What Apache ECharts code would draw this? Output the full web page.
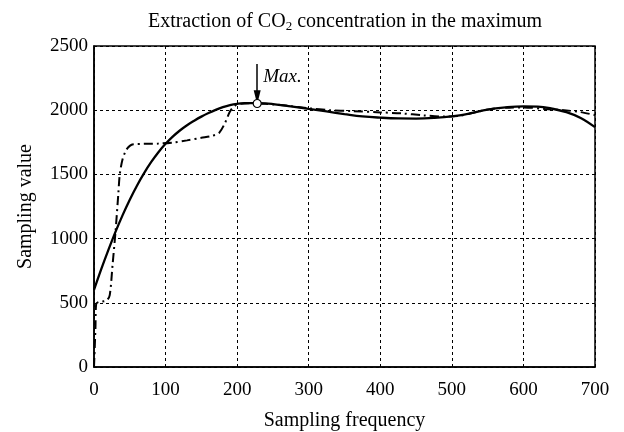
<!DOCTYPE html>
<html>
<head>
<meta charset="utf-8">
<script src="https://cdn.jsdelivr.net/npm/echarts@6/dist/echarts.min.js"></script>
<style>
  html, body { margin: 0; padding: 0; background: #fff; }
  #chartDiv { width: 624px; height: 432px; }
</style>
</head>
<body>
<div id="chartDiv"></div>
<script>
// solid curve (fitted)
var fitX = [0, 10, 20, 30, 40, 50, 60, 70, 80, 90, 100, 110, 120, 130, 140, 150, 160, 170, 180, 190, 200,
  210, 230, 250, 275, 300, 325, 350, 375, 400, 425, 450, 475, 500, 525, 550, 575, 600, 620, 640, 660, 680, 700];
var fitY = [600, 760, 910, 1052, 1183, 1303, 1412, 1510, 1597, 1673, 1738, 1794, 1842, 1883, 1918, 1950, 1978, 2003, 2024, 2040, 2050,
  2055, 2055, 2048, 2030, 2010, 1990, 1970, 1952, 1942, 1936, 1935, 1940, 1952, 1975, 2005, 2022, 2030, 2028, 2012, 1985, 1940, 1868];

// dash-dot curve (sampled)
var rawX = [0, 2, 3, 6, 12, 18, 22, 26, 30, 34, 36, 40, 45, 50, 55, 70, 90, 110, 130, 150, 165, 175, 183, 190, 197, 205,
  220, 240, 270, 300, 330, 360, 400, 430, 460, 490, 510, 530, 555, 580, 600, 630, 660, 680, 700];
var rawY = [0, 300, 490, 505, 510, 520, 560, 800, 1050, 1350, 1500, 1620, 1690, 1722, 1735, 1738, 1740, 1748, 1765, 1785, 1800, 1825, 1900, 1990, 2035, 2050,
  2055, 2050, 2035, 2015, 2000, 1993, 1983, 1975, 1960, 1950, 1955, 1980, 2010, 2020, 2022, 2010, 1998, 1985, 1962];

var xTicks = [0, 700, 100];
var yTicks = [0, 2500, 500];
var maxPoint = [228, 2052];
var arrowFrom = [228, 2360];
var arrowTo = [228, 2100];

function pairs(xs, ys) {
  var out = [];
  for (var i = 0; i < xs.length; i++) out.push([xs[i], ys[i]]);
  return out;
}

var serif = "Liberation Serif";
var myChart = echarts.init(document.getElementById("chartDiv"));

var option = {
  animation: false,
  backgroundColor: "#fff",
  title: {
    text: "{a|Extraction of CO}{s|2}{a| concentration in the maximum}",
    left: 340,
    textAlign: "center",
    top: 6,
    textStyle: {
      rich: {
        a: { fontFamily: serif, fontSize: 20, fontWeight: "normal", color: "#000" },
        s: { fontFamily: serif, fontSize: 13, fontWeight: "normal", color: "#000", verticalAlign: "bottom", padding: [9, 0, 0, 0] }
      }
    }
  },
  grid: {
    left: 94, right: 29, top: 46, bottom: 65,
    outerBoundsMode: "none",
    show: true, borderColor: "#000", borderWidth: 1.5
  },
  xAxis: {
    type: "value",
    min: xTicks[0], max: xTicks[1], interval: xTicks[2],
    name: "Sampling frequency",
    nameLocation: "middle",
    nameGap: 44,
    nameTextStyle: { fontFamily: serif, fontSize: 20, color: "#000" },
    axisLine: { lineStyle: { color: "#000", width: 1.5 } },
    axisTick: { show: false },
    axisLabel: { fontFamily: serif, fontSize: 19, color: "#000", margin: 14 },
    splitLine: { lineStyle: { color: "#000", type: [3, 3], width: 1 } }
  },
  yAxis: {
    type: "value",
    min: yTicks[0], max: yTicks[1], interval: yTicks[2],
    name: "Sampling value",
    nameLocation: "middle",
    nameGap: 58,
    nameTextStyle: { fontFamily: serif, fontSize: 20, color: "#000" },
    axisLine: { lineStyle: { color: "#000", width: 1.5 } },
    axisTick: { show: false },
    axisLabel: {
      fontFamily: serif, fontSize: 19, color: "#000", margin: 6,
      formatter: function (v) { return String(v); }
    },
    splitLine: { lineStyle: { color: "#000", type: [3, 3], width: 1 } }
  },
  series: [
    {
      type: "line",
      data: pairs(rawX, rawY),
      showSymbol: false,
      smooth: 0.3,
      lineStyle: { color: "#000", width: 2, type: [9, 4, 2, 4] },
      z: 3
    },
    {
      type: "line",
      data: pairs(fitX, fitY),
      showSymbol: false,
      smooth: 0.4,
      lineStyle: { color: "#000", width: 2.3 },
      z: 4,
      markPoint: {
        silent: true,
        data: [
          { coord: maxPoint, symbol: "circle", symbolSize: 8,
            itemStyle: { color: "#fff", borderColor: "#000", borderWidth: 1.2 }, label: { show: false } },
          { coord: [arrowFrom[0], 2255], symbol: "circle", symbolSize: 0,
            label: { show: true, formatter: "Max.", position: "right", distance: 6,
              fontFamily: serif, fontStyle: "italic", fontSize: 19, color: "#000" } }
        ]
      },
      markLine: {
        silent: true,
        symbol: ["none", "triangle"],
        symbolSize: [7, 14],
        label: { show: false },
        lineStyle: { color: "#000", width: 1.5, type: "solid" },
        data: [[{ coord: arrowFrom }, { coord: arrowTo }]]
      }
    }
  ]
};

myChart.setOption(option);

window.addEventListener("resize", function () {
  myChart.resize();
});
</script>
</body>
</html>
